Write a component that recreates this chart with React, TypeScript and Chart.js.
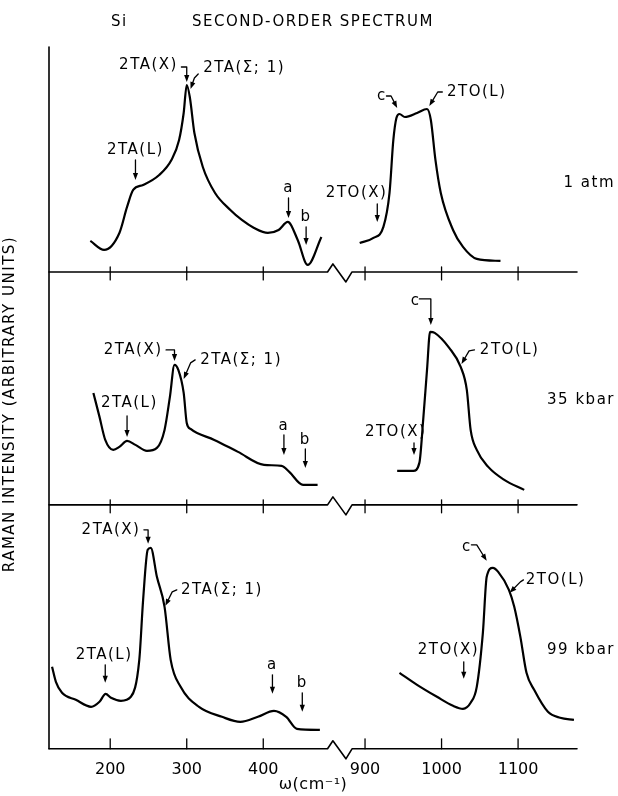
import React, { useEffect, useRef } from 'react';
import { Chart, registerables } from 'chart.js';

Chart.register(...registerables);

// ---- axis definition (broken x axis: low range 120-484, high range shifted) ----
const BREAK_SHIFT = 367; // cm-1 removed between the two ranges
const X_MIN = 120;
const X_MAX = 810;
const ZIGZAG_V = [484, 491, 508, 516];
const TICK_VALUES = [200, 300, 400, 900, 1000, 1100];
const TICK_LABELS = ['200', '300', '400', '900', '1000', '1100'];

// ---- panels ----
const PANEL_LABELS = ['1 atm', '35 kbar', '99 kbar'];
const PANEL_LABEL_Y = [89, 105, 99];
const PANEL_BASES = [477, 244, 0];
const Y_MAX = 702;

// ---- 1 atm ----
const atm1LowW = [174, 192, 212, 222, 230, 243, 264, 280, 290, 296, 300, 304, 310, 321, 337, 357, 372, 388, 406, 420, 432, 445, 458, 476];
const atm1LowI = [31, 22, 39, 65, 82, 87, 97, 112, 132, 159, 187, 175, 139, 105, 79, 62, 52, 44, 39, 42, 50, 32, 7, 35];
const atm1HighW = [893, 911, 924, 932, 937, 941, 945, 952, 968, 981, 986, 992, 999, 1015, 1028, 1046, 1077];
const atm1HighI = [29, 34, 45, 79, 132, 154, 158, 155, 159, 163, 152, 112, 79, 42, 25, 13, 11];

// ---- 35 kbar ----
const kb35LowW = [178, 186, 193.5, 204, 212, 222, 233, 248, 261, 271, 278, 284, 289, 296, 300, 305, 336, 367, 401, 424, 434, 452, 471];
const kb35LowI = [112, 88, 65, 55, 58, 64, 60, 54, 57, 75, 108, 140, 135, 112, 82, 76, 65, 53, 40, 39, 33, 20, 20];
const kb35HighW = [942, 963, 971, 976, 981, 985, 991, 1010, 1025, 1033, 1038, 1046, 1061, 1082, 1108];
const kb35HighI = [34, 34, 42, 85, 135, 173, 172, 157, 138, 115, 75, 55, 38, 25, 15];

// ---- 99 kbar ----
const kb99LowW = [124, 129, 137, 155, 175, 186, 194, 201, 214, 227, 238, 243, 249, 253, 261, 271, 279, 292, 316, 346, 370, 393, 414, 430, 444, 474];
const kb99LowI = [82, 67, 56, 49, 42, 47, 55, 51, 48, 52, 89, 149, 199, 201, 172, 142, 89, 62, 42, 32, 27, 32, 38, 32, 20, 19];
const kb99HighW = [945, 968, 994, 1015, 1028, 1038, 1046, 1054, 1059, 1067, 1074, 1088, 1095, 1103, 1111, 1121, 1139, 1155, 1173];
const kb99HighI = [76, 64, 52, 43, 40, 46, 62, 116, 172, 181, 177, 159, 142, 112, 76, 59, 37, 31, 29];

const SERIES: [number[], number[], number][] = [
  [atm1LowW, atm1LowI, 0], [atm1HighW, atm1HighI, 0],
  [kb35LowW, kb35LowI, 1], [kb35HighW, kb35HighI, 1],
  [kb99LowW, kb99LowI, 2], [kb99HighW, kb99HighI, 2],
];

// ---- peak annotations: text (w, I) and arrow path [[w, I], ...] ----
type Annot = { t: string; x: number; y: number; path: number[][] };
const ANNOTS: Annot[][] = [
  [
    { t: '2TA(X)', x: 250, y: 207, path: [[293, 205], [300, 205], [300, 190]] },
    { t: '2TA(Σ; 1)', x: 375, y: 204, path: [[315, 198], [310, 194], [305, 183]] },
    { t: '2TA(L)', x: 233, y: 122, path: [[233, 112], [233, 92]] },
    { t: 'a', x: 433, y: 84, path: [[433, 74], [433, 54]] },
    { t: 'b', x: 456, y: 55, path: [[456, 45], [456, 27]] },
    { t: '2TO(X)', x: 889, y: 79, path: [[916, 68], [916, 50]] },
    { t: 'c', x: 922, y: 176, path: [[928, 176], [934, 176], [942, 164]] },
    { t: '2TO(L)', x: 1046, y: 180, path: [[1001, 180], [995, 180], [984, 166]] },
  ],
  [
    { t: '2TA(X)', x: 230, y: 155, path: [[273, 155], [284, 155], [284, 144]] },
    { t: '2TA(Σ; 1)', x: 371, y: 145, path: [[311, 145], [305, 142], [296, 126]] },
    { t: '2TA(L)', x: 225, y: 102, path: [[222, 89], [222, 68]] },
    { t: 'a', x: 427, y: 79, path: [[427, 70], [427, 50]] },
    { t: 'b', x: 455, y: 65, path: [[455, 56], [455, 37]] },
    { t: 'c', x: 966, y: 204, path: [[971, 206], [986, 206], [986, 180]] },
    { t: '2TO(L)', x: 1089, y: 155, path: [[1043, 155], [1036, 154], [1026, 141]] },
    { t: '2TO(X)', x: 940, y: 73, path: [[964, 62], [964, 50]] },
  ],
  [
    { t: '2TA(X)', x: 201, y: 219, path: [[244, 219], [249.5, 219], [249.5, 205]] },
    { t: '2TA(Σ; 1)', x: 346, y: 159, path: [[287, 159], [281, 157], [272, 143]] },
    { t: '2TA(L)', x: 192, y: 94, path: [[193.5, 84], [193.5, 66]] },
    { t: 'a', x: 412, y: 84, path: [[412, 74], [412, 55]] },
    { t: 'b', x: 451, y: 66, path: [[451, 56], [451, 37]] },
    { t: 'c', x: 1033, y: 202, path: [[1039, 204], [1046, 204], [1059, 188]] },
    { t: '2TO(L)', x: 1149, y: 169, path: [[1107, 169], [1103, 167], [1089, 156]] },
    { t: '2TO(X)', x: 1009, y: 99, path: [[1029, 87], [1029, 70]] },
  ],
];

const TITLE_SYMBOL = 'Si';
const TITLE_TEXT = 'SECOND-ORDER SPECTRUM';
const Y_TITLE = 'RAMAN INTENSITY (ARBITRARY UNITS)';
const X_TITLE = 'ω(cm⁻¹)';

const FONT = '"DejaVu Sans", "Liberation Sans", sans-serif';

const toV = (w: number) => (w >= 700 ? w - BREAK_SHIFT : w);

const decor = {
  id: 'decor',
  afterDraw(chart: any) {
    const { ctx, chartArea, scales } = chart;
    const xs = scales.x;
    const ys = scales.y;
    const X = (w: number) => xs.getPixelForValue(toV(w));
    const Y = (p: number, i: number) => ys.getPixelForValue(PANEL_BASES[p] + i);
    ctx.save();
    ctx.strokeStyle = '#000';
    ctx.fillStyle = '#000';
    ctx.lineCap = 'round';
    ctx.lineJoin = 'round';

    // left axis
    ctx.lineWidth = 1.6;
    ctx.beginPath();
    ctx.moveTo(chartArea.left, chartArea.top);
    ctx.lineTo(chartArea.left, chartArea.bottom);
    ctx.stroke();

    // baselines with break zigzag and ticks
    PANEL_BASES.forEach((b, p) => {
      const y = ys.getPixelForValue(b);
      const last = p === PANEL_BASES.length - 1;
      ctx.lineWidth = 1.6;
      ctx.beginPath();
      ctx.moveTo(chartArea.left, y);
      ctx.lineTo(xs.getPixelForValue(ZIGZAG_V[0]), y);
      ctx.lineTo(xs.getPixelForValue(ZIGZAG_V[1]), y - 8);
      ctx.lineTo(xs.getPixelForValue(ZIGZAG_V[2]), y + 10);
      ctx.lineTo(xs.getPixelForValue(ZIGZAG_V[3]), y);
      ctx.lineTo(chartArea.right, y);
      ctx.stroke();
      const up = last ? 10 : 5;
      const down = last ? 0 : 8;
      ctx.lineWidth = 1.3;
      TICK_VALUES.forEach((t) => {
        const x = X(t);
        ctx.beginPath();
        ctx.moveTo(x, y - up);
        ctx.lineTo(x, y + down);
        ctx.stroke();
      });
    });

    // annotations
    ctx.font = `15px ${FONT}`;
    (ctx as any).letterSpacing = '1.5px';
    ctx.textAlign = 'center';
    ctx.textBaseline = 'middle';
    ANNOTS.forEach((list, p) => {
      list.forEach((a) => {
        ctx.fillText(a.t, X(a.x), Y(p, a.y));
        const pts = a.path.map(([w, i]) => [X(w), Y(p, i)]);
        const n = pts.length;
        const [ax, ay] = pts[n - 2];
        const [bx, by] = pts[n - 1];
        const ang = Math.atan2(by - ay, bx - ax);
        const hl = 7;
        const hw = 2.6;
        ctx.lineWidth = 1.3;
        ctx.beginPath();
        ctx.moveTo(pts[0][0], pts[0][1]);
        for (let k = 1; k < n - 1; k++) ctx.lineTo(pts[k][0], pts[k][1]);
        ctx.lineTo(bx - Math.cos(ang) * (hl - 1), by - Math.sin(ang) * (hl - 1));
        ctx.stroke();
        ctx.beginPath();
        ctx.moveTo(bx, by);
        ctx.lineTo(bx - Math.cos(ang) * hl - Math.sin(ang) * hw, by - Math.sin(ang) * hl + Math.cos(ang) * hw);
        ctx.lineTo(bx - Math.cos(ang) * hl + Math.sin(ang) * hw, by - Math.sin(ang) * hl - Math.cos(ang) * hw);
        ctx.closePath();
        ctx.fill();
      });
    });

    // pressure labels
    ctx.textAlign = 'right';
    PANEL_LABELS.forEach((s, p) => {
      ctx.fillText(s, chart.width - 3, Y(p, PANEL_LABEL_Y[p]));
    });

    // title
    ctx.textAlign = 'left';
    ctx.fillText(TITLE_SYMBOL, 111, 22);
    ctx.fillText(TITLE_TEXT, 192, 22);

    // x title
    ctx.font = `16px ${FONT}`;
    (ctx as any).letterSpacing = '0.5px';
    ctx.textAlign = 'center';
    ctx.fillText(X_TITLE, (chartArea.left + chartArea.right) / 2, 785);

    // y title
    ctx.font = `15px ${FONT}`;
    (ctx as any).letterSpacing = '1.5px';
    ctx.translate(10, 404);
    ctx.rotate(-Math.PI / 2);
    ctx.fillText(Y_TITLE, 0, 0);
    ctx.restore();
  },
};

export default function App() {
  const ref = useRef<HTMLCanvasElement>(null);
  useEffect(() => {
    document.body.style.margin = '0';
    const datasets = SERIES.map(([ws, is, p]) => ({
      data: ws.map((w, k) => ({ x: toV(w), y: is[k] + PANEL_BASES[p] })),
      borderColor: '#000',
      borderWidth: 2.2,
      pointRadius: 0,
      fill: false,
      cubicInterpolationMode: 'monotone' as const,
    }));
    const chart = new Chart(ref.current as HTMLCanvasElement, {
      type: 'line',
      data: { datasets },
      options: {
        responsive: false,
        animation: false,
        events: [],
        layout: { padding: { left: 49, right: 41, top: 47, bottom: 6 } },
        plugins: { legend: { display: false }, tooltip: { enabled: false }, title: { display: false } },
        scales: {
          x: {
            type: 'linear',
            min: X_MIN,
            max: X_MAX,
            grid: { display: false, drawTicks: false },
            border: { display: false },
            afterBuildTicks: (s: any) => {
              s.ticks = TICK_VALUES.map((w) => ({ value: toV(w) }));
            },
            ticks: {
              padding: 11,
              color: '#000',
              autoSkip: false,
              maxRotation: 0,
              font: { family: FONT, size: 16 },
              callback: (_v: any, idx: number) => TICK_LABELS[idx],
            },
          },
          y: { display: false, min: 0, max: Y_MAX },
        },
      },
      plugins: [decor],
    });
    return () => chart.destroy();
  }, []);
  return (
    <div style={{ width: 618, height: 796, background: '#fff' }}>
      <canvas ref={ref} width={618} height={796} style={{ display: 'block' }} />
    </div>
  );
}
